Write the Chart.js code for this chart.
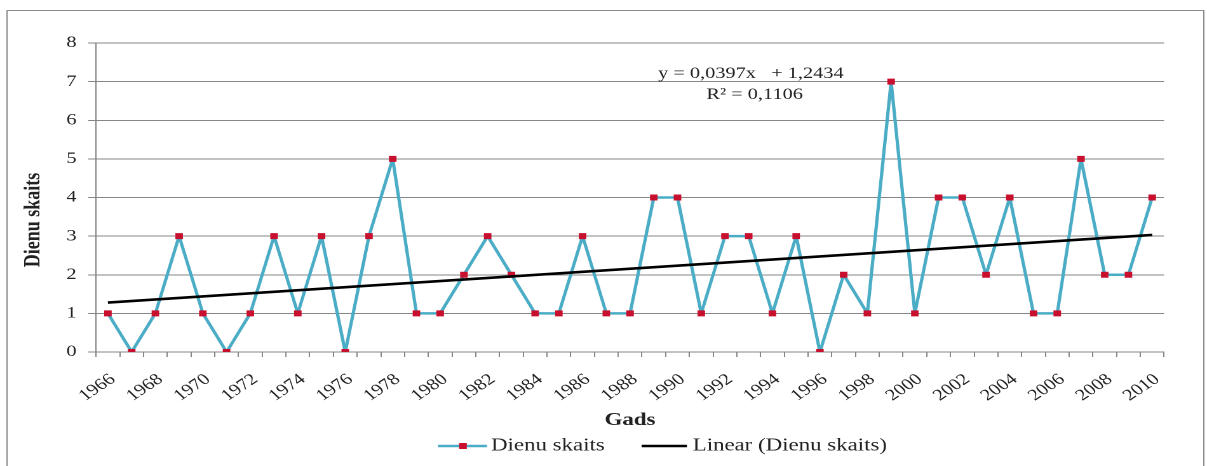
<!DOCTYPE html>
<html>
<head>
<meta charset="utf-8">
<script src="https://cdn.jsdelivr.net/npm/chart.js@4/dist/chart.umd.min.js"></script>
<style>
  html, body { margin: 0; padding: 0; background: #fff; overflow: hidden; }
  /* the reference is stretched horizontally, so draw narrow and stretch */
  #wrap { width: 950px; height: 466px; transform: scaleX(1.2705); transform-origin: 0 0; }
</style>
</head>
<body>
<div id="wrap"><canvas id="chart" width="950" height="466"></canvas></div>
<script>
const years = ['1966','1967','1968','1969','1970','1971','1972','1973','1974','1975',
  '1976','1977','1978','1979','1980','1981','1982','1983','1984','1985',
  '1986','1987','1988','1989','1990','1991','1992','1993','1994','1995',
  '1996','1997','1998','1999','2000','2001','2002','2003','2004','2005',
  '2006','2007','2008','2009','2010'];

const dienuSkaits = [1,0,1,3,1,0,1,3,1,3,
  0,3,5,1,1,2,3,2,1,1,
  3,1,1,4,4,1,3,3,1,3,
  0,2,1,7,1,4,4,2,4,1,
  1,5,2,2,4];

// trend line ends
const trendStart = 1.28;
const trendEnd = 3.03;

const trendText = ['y = 0,0397x   + 1,2434', 'R\u00b2 = 0,1106'];
const seriesName = 'Dienu skaits';
const trendName = 'Linear (Dienu skaits)';
const yTitle = 'Dienu skaits';
const xTitle = 'Gads';

const TEAL = '#4BACC6';
const RED = '#C8102E';
const GRID = '#878787';
const TEXT = '#222';
const SERIF = "'Liberation Serif', 'Times New Roman', serif";

const extras = {
  id: 'extras',
  beforeDraw(chart) {
    const ctx = chart.ctx;
    ctx.save();
    ctx.strokeStyle = '#8c8c8c';
    ctx.lineWidth = 1;
    ctx.strokeRect(5.5, 10.5, 942, 470);
    ctx.restore();
  },
  afterDraw(chart) {
    const ctx = chart.ctx;
    ctx.save();
    ctx.fillStyle = TEXT;

    // y axis title
    ctx.save();
    ctx.translate(26.4, 220);
    ctx.rotate(-Math.PI / 2);
    ctx.font = 'bold 18px ' + SERIF;
    ctx.textAlign = 'center';
    ctx.textBaseline = 'middle';
    ctx.fillText(yTitle, 0, 0);
    ctx.restore();

    // trend equation
    ctx.font = '16px ' + SERIF;
    ctx.textAlign = 'center';
    ctx.textBaseline = 'middle';
    ctx.fillText(trendText[0], 591, 74);
    ctx.fillText(trendText[1], 594, 95);

    // legend
    const ly = 446;
    ctx.lineWidth = 2.5;
    ctx.strokeStyle = TEAL;
    ctx.beginPath(); ctx.moveTo(344.7, ly); ctx.lineTo(383.3, ly); ctx.stroke();
    ctx.fillStyle = RED;
    ctx.fillRect(364.4 - 3, ly - 3, 6, 6);
    ctx.strokeStyle = '#000';
    ctx.beginPath(); ctx.moveTo(505, ly); ctx.lineTo(540.7, ly); ctx.stroke();
    ctx.fillStyle = TEXT;
    ctx.font = '18px ' + SERIF;
    ctx.textAlign = 'left';
    ctx.fillText(seriesName, 386.5, ly);
    ctx.fillText(trendName, 545.2, ly);
    ctx.restore();
  }
};

new Chart(document.getElementById('chart'), {
  type: 'line',
  data: {
    labels: years,
    datasets: [
      {
        label: trendName,
        data: [{ x: years[0], y: trendStart }, { x: years[years.length - 1], y: trendEnd }],
        borderColor: '#000',
        borderWidth: 2.6,
        pointRadius: 0,
        order: 0,
      },
      {
        label: seriesName,
        data: dienuSkaits,
        borderColor: TEAL,
        borderWidth: 2.6,
        borderJoinStyle: 'round',
        pointStyle: 'rect',
        pointRadius: 4.2,
        pointBackgroundColor: RED,
        pointBorderWidth: 0,
        tension: 0,
        order: 1,
      },
    ],
  },
  options: {
    responsive: false,
    animation: false,
    devicePixelRatio: 2,
    layout: { padding: { left: 0, right: 33.8, top: 43, bottom: 26 } },
    plugins: { legend: { display: false }, tooltip: { enabled: false } },
    scales: {
      x: {
        type: 'category',
        offset: true,
        grid: { drawOnChartArea: false, drawTicks: true, tickLength: 5, offset: true, color: GRID },
        border: { color: GRID, width: 1 },
        ticks: {
          autoSkip: false, minRotation: 40, maxRotation: 40, padding: 13, labelOffset: 4,
          color: TEXT, font: { family: SERIF, size: 16 },
          callback: (v, i) => (i % 2 === 0 ? years[i] : ''),
        },
        title: {
          display: true, text: xTitle, color: TEXT,
          font: { family: SERIF, size: 18, weight: 'bold' },
          padding: { top: 0, bottom: 9 },
        },
        afterFit: s => { s.height = 88; },
      },
      y: {
        min: 0, max: 8,
        grid: { color: GRID, tickLength: 6.3 },
        border: { color: GRID, width: 1 },
        ticks: { stepSize: 1, padding: 9, color: TEXT, font: { family: SERIF, size: 16 } },
        afterFit: s => { s.width = 75.6; },
      },
    },
  },
  plugins: [extras],
});
</script>
</body>
</html>
